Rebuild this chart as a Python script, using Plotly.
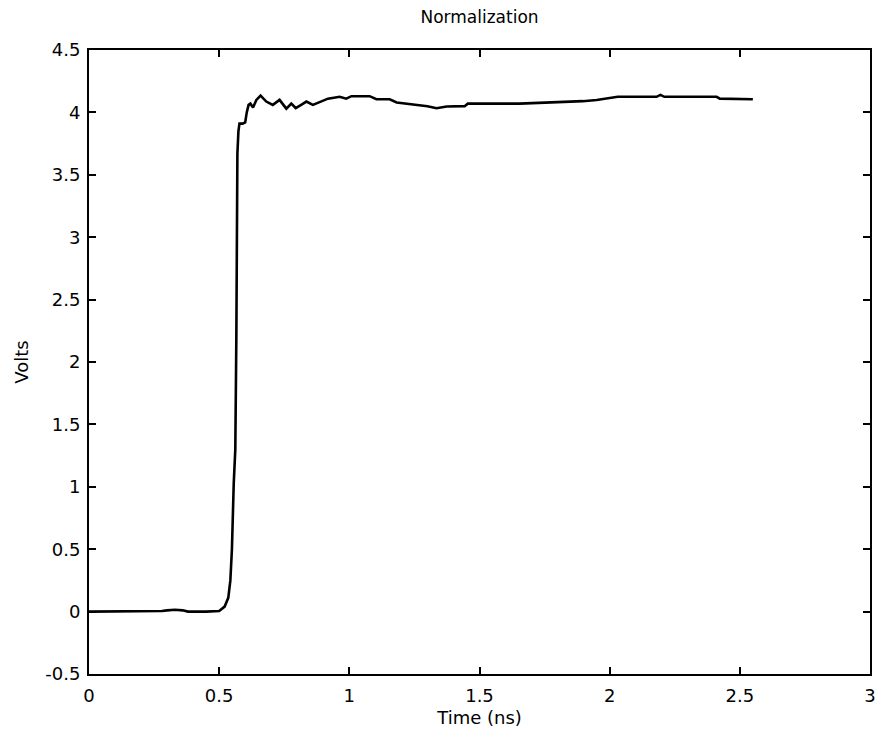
import plotly.graph_objects as go

time_ns = [0.0, 0.25, 0.28, 0.30, 0.33, 0.36, 0.38, 0.45, 0.50, 0.521, 0.535, 0.543,
           0.549, 0.556, 0.562, 0.566, 0.570, 0.574, 0.578, 0.590, 0.600, 0.606,
           0.613, 0.620, 0.630, 0.643, 0.659, 0.681, 0.706, 0.732, 0.758, 0.777,
           0.794, 0.815, 0.835, 0.860, 0.886, 0.918, 0.963, 0.988, 1.008, 1.078,
           1.104, 1.155, 1.182, 1.258, 1.300, 1.335, 1.374, 1.443, 1.455, 1.654,
           1.797, 1.897, 1.950, 2.031, 2.180, 2.195, 2.210, 2.411, 2.423, 2.55]
volts = [0.0, 0.0, 0.005, 0.01, 0.015, 0.01, 0.0, 0.0, 0.005, 0.04, 0.11, 0.25,
         0.5, 1.03, 1.3, 2.2, 3.67, 3.85, 3.91, 3.91, 3.92, 4.0,
         4.06, 4.07, 4.04, 4.10, 4.135, 4.087, 4.06, 4.10, 4.03, 4.07,
         4.035, 4.06, 4.087, 4.06, 4.08, 4.11, 4.125, 4.11, 4.13, 4.13,
         4.105, 4.105, 4.08, 4.06, 4.05, 4.034, 4.047, 4.05, 4.07, 4.07,
         4.08, 4.09, 4.10, 4.125, 4.125, 4.14, 4.125, 4.125, 4.11, 4.105]

x_ticks = [0, 0.5, 1, 1.5, 2, 2.5, 3]
x_tick_labels = ["0", "0.5", "1", "1.5", "2", "2.5", "3"]
y_ticks = [-0.5, 0, 0.5, 1, 1.5, 2, 2.5, 3, 3.5, 4, 4.5]
y_tick_labels = ["-0.5", "0", "0.5", "1", "1.5", "2", "2.5", "3", "3.5", "4", "4.5"]

font_family = "DejaVu Sans, Liberation Sans, Arial, sans-serif"

fig = go.Figure()
fig.add_trace(go.Scatter(x=time_ns, y=volts, mode="lines",
                         line=dict(color="black", width=2.6), showlegend=False))

axis_common = dict(
    showgrid=False, zeroline=False, showline=True, linecolor="black", linewidth=2,
    ticks="inside", ticklen=7, tickwidth=2, tickcolor="black", mirror="ticks",
    tickfont=dict(family=font_family, size=18, color="black"),
)

fig.update_xaxes(range=[0, 3], tickvals=x_ticks, ticktext=x_tick_labels,
                 ticklabelstandoff=4,
                 title=dict(text="Time (ns)", font=dict(family=font_family, size=18, color="black"), standoff=7),
                 **axis_common)
fig.update_yaxes(range=[-0.5, 4.5], tickvals=y_ticks, ticktext=y_tick_labels,
                 ticklabelstandoff=3,
                 title=dict(text="Volts", font=dict(family=font_family, size=18, color="black"), standoff=12),
                 **axis_common)

fig.update_layout(
    width=881, height=738,
    margin=dict(l=89, r=11, t=50, b=64, autoexpand=False),
    paper_bgcolor="white", plot_bgcolor="white",
    title=dict(text="Normalization", x=0.5, xref="paper", xanchor="center",
               y=1 - 17 / 738, yref="container", yanchor="middle",
               font=dict(family=font_family, size=17, color="black")),
)

fig.write_html("out.html", config={"displayModeBar": False},
               post_script="document.body.style.margin='0';document.body.style.overflow='hidden';")
